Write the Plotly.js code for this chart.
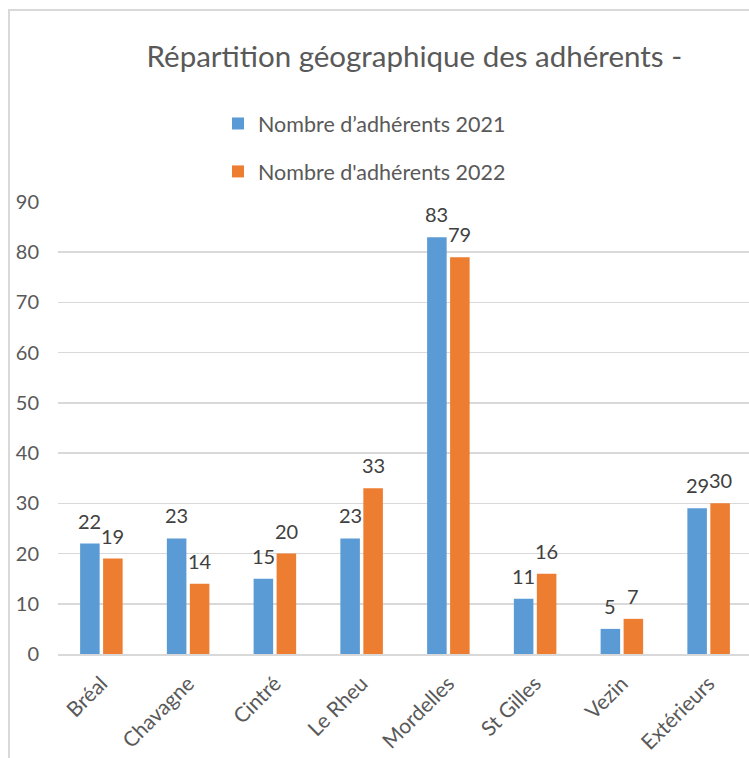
<!DOCTYPE html>
<html>
<head>
<meta charset="utf-8">
<script src="https://cdn.plot.ly/plotly-3.0.1.min.js"></script>
<style>
  html, body { margin: 0; padding: 0; background: #ffffff; overflow: hidden; width: 749px; height: 758px; }
  #frame { position: absolute; left: 8px; top: 9px; width: 900px; height: 900px;
           border-top: 2px solid #d9d9d9; border-left: 2px solid #d9d9d9; }
  #chart { position: absolute; left: 0; top: 0; width: 752px; height: 758px; }
</style>
</head>
<body>
<div id="frame"></div>
<div id="chart"></div>
<script>
const categories = ["Bréal", "Chavagne", "Cintré", "Le Rheu", "Mordelles", "St Gilles", "Vezin", "Extérieurs"];
const values2021 = [22, 23, 15, 23, 83, 11, 5, 29];
const values2022 = [19, 14, 20, 33, 79, 16, 7, 30];
const seriesNames = ["Nombre d’adhérents 2021", "Nombre d'adhérents 2022"];
const yTicks = [0, 10, 20, 30, 40, 50, 60, 70, 80, 90];
const titleText = "Répartition géographique des adhérents -";

const FONT = "Lato, 'Open Sans', sans-serif";
const BLUE = "#5b9bd5";
const ORANGE = "#ed7d31";

const traces = [
  { type: "bar", name: seriesNames[0], x: categories, y: values2021,
    marker: { color: BLUE }, legendgroup: "a", hoverinfo: "skip" },
  { type: "bar", name: seriesNames[1], x: categories, y: values2022,
    marker: { color: ORANGE }, legendgroup: "b", hoverinfo: "skip" }
];

const annotations = [];
[values2021, values2022].forEach((vals, s) => {
  vals.forEach((v, i) => {
    annotations.push({
      x: categories[i], y: v, xref: "x", yref: "y",
      text: String(v), showarrow: false,
      xanchor: "center", yanchor: "bottom",
      xshift: s === 0 ? -11.5 : 11.5, yshift: 9,
      font: { family: FONT, size: 20, color: "#404040" }
    });
  });
});

const layout = {
  width: 752, height: 758,
  margin: { l: 58, r: 0, t: 202, b: 104, autoexpand: false },
  paper_bgcolor: "rgba(0,0,0,0)",
  plot_bgcolor: "rgba(0,0,0,0)",
  font: { family: FONT, color: "#595959" },
  title: { text: titleText, x: 0.551, xanchor: "center", xref: "container",
           y: 0.925, yanchor: "middle", yref: "container",
           font: { family: FONT, size: 29.5, color: "#595959" } },
  barmode: "group",
  bargap: 0.47,
  bargroupgap: 0.15,
  showlegend: true,
  legend: { orientation: "v", xref: "paper", yref: "paper",
            x: (218 - 58) / 694, xanchor: "left", y: (654 - 103) / 452, yanchor: "top",
            traceorder: "grouped", tracegroupgap: 17,
            font: { family: FONT, size: 21.5, color: "#595959" },
            bgcolor: "rgba(0,0,0,0)" },
  xaxis: { type: "category", tickangle: -45, ticks: "", automargin: false,
           tickfont: { family: FONT, size: 21, color: "#595959" },
           ticklabelstandoff: 7,
           showline: true, linecolor: "#d9d9d9", linewidth: 2,
           showgrid: false, zeroline: false, fixedrange: true },
  yaxis: { range: [0, 90], tickvals: yTicks, ticks: "", automargin: false,
           tickfont: { family: FONT, size: 20, color: "#595959" },
           ticklabelstandoff: 18,
           showgrid: true, gridcolor: "#d9d9d9", gridwidth: 1.5,
           zeroline: false, showline: false, fixedrange: true },
  annotations: annotations
};

Plotly.newPlot("chart", traces, layout, { displayModeBar: false, staticPlot: true });
</script>
</body>
</html>
